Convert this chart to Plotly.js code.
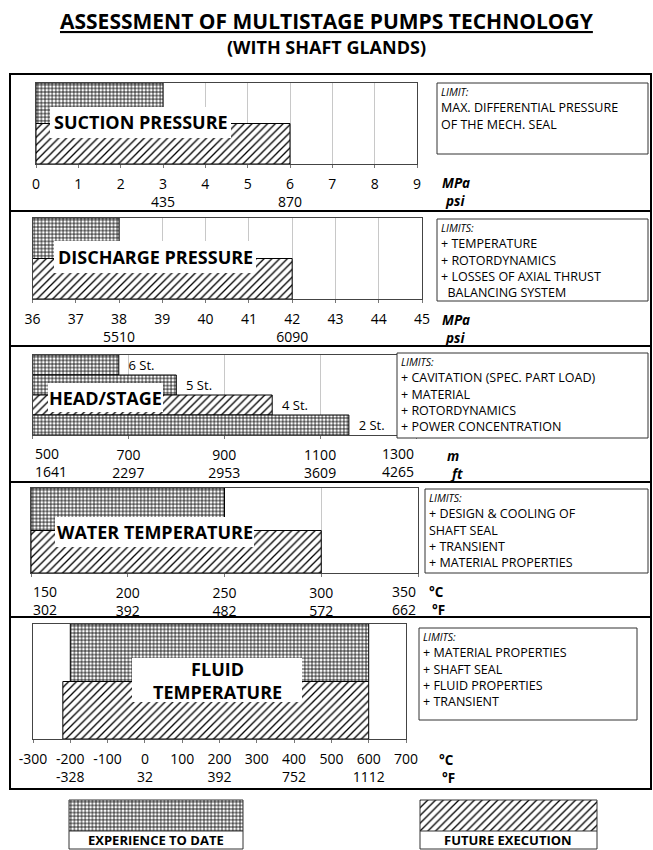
<!DOCTYPE html>
<html><head><meta charset="utf-8">
<script src="https://cdn.plot.ly/plotly-3.0.1.min.js"></script>
<style>html,body{margin:0;padding:0;background:#fff}#chart{width:653px;height:850px}</style>
</head><body><div id="chart"></div>
<script>
// ---------------- DATA ----------------
const barRows = ['experience', 'future'];          // row kind of the two bars in each panel
const legendItems = ['EXPERIENCE TO DATE', 'FUTURE EXECUTION'];

const suctionFrom = [0, 0];
const suctionTo = [3, 6];
const suctionTicks = [0, 1, 2, 3, 4, 5, 6, 7, 8, 9];
const suctionPsiAt = [3, 6];
const suctionPsi = ['435', '870'];

const dischargeFrom = [36, 36];
const dischargeTo = [38, 42];
const dischargeTicks = [36, 37, 38, 39, 40, 41, 42, 43, 44, 45];
const dischargePsiAt = [38, 42];
const dischargePsi = ['5510', '6090'];

const stageRows = ['6 St.', '5 St.', '4 St.', '2 St.'];
const stageHead = [680, 800, 1000, 1160];
const stageKind = ['experience', 'experience', 'future', 'experience'];
const headBase = 500;
const headTicks = [500, 700, 900, 1100, 1300];
const headFtAt = [500, 700, 900, 1100, 1300];
const headFt = ['1641', '2297', '2953', '3609', '4265'];

const waterFrom = [150, 150];
const waterTo = [250, 300];
const waterTicks = [150, 200, 250, 300, 350];
const waterFAt = [150, 200, 250, 300, 350];
const waterF = ['302', '392', '482', '572', '662'];

const fluidFrom = [-200, -220];
const fluidTo = [600, 600];
const fluidTicks = [-300, -200, -100, 0, 100, 200, 300, 400, 500, 600, 700];
const fluidFAt = [-200, 0, 200, 400, 600];
const fluidF = ['-328', '32', '392', '752', '1112'];

const panelNames = ['SUCTION PRESSURE', 'DISCHARGE PRESSURE', 'HEAD/STAGE', 'WATER TEMPERATURE', 'FLUID<br>TEMPERATURE'];
const unitTop = ['MPa', 'MPa', 'm', '°C', '°C'];
const unitBottom = ['psi', 'psi', 'ft', '°F', '°F'];
const unitItalic = [true, true, true, false, false];
const limitHeads = ['LIMIT:', 'LIMITS:', 'LIMITS:', 'LIMITS:', 'LIMITS:'];
const limitLines = [
  ['MAX. DIFFERENTIAL PRESSURE', 'OF THE MECH. SEAL'],
  ['+ TEMPERATURE', '+ ROTORDYNAMICS', '+ LOSSES OF AXIAL THRUST', '\u00a0\u00a0BALANCING SYSTEM'],
  ['+ CAVITATION (SPEC. PART LOAD)', '+ MATERIAL', '+ ROTORDYNAMICS', '+ POWER CONCENTRATION'],
  ['+ DESIGN &amp; COOLING OF', 'SHAFT SEAL', '+ TRANSIENT', '+ MATERIAL PROPERTIES'],
  ['+ MATERIAL PROPERTIES', '+ SHAFT SEAL', '+ FLUID PROPERTIES', '+ TRANSIENT']
];

// ---------------- LAYOUT GEOMETRY (pixels) ----------------
const W = 653, H = 850;
const px = x => x / W;
const py = y => 1 - y / H;
const FONT = 'Open Sans, DejaVu Sans, sans-serif';

const GEO = [
  {box: [36, 417, 83, 164],  label: [50, 231, 107, 138], limit: [437, 648, 83, 154],  unit: [440, 183], edge: false},
  {box: [32.5, 422, 218, 299], label: [54, 256, 241, 273], limit: [437, 648, 219, 301], unit: [440, 320], edge: false},
  {box: [32.5, 416, 355, 435], label: [48, 163, 383, 412], limit: [397, 648, 353, 438], unit: [445, 456], edge: true},
  {box: [31, 418, 488, 573], label: [55, 254, 517, 547], limit: [425, 648, 489, 573], unit: [427, 592], edge: true},
  {box: [33, 406, 624, 739], label: [132, 302, 658, 702], limit: [419, 637, 628, 720], unit: [437, 760], edge: false}
];
const FRAME = [10, 651, 74, 789];
const SEPARATORS = [211, 346, 482, 617];
const LEGEND = [
  {box: [69, 243, 800, 849], split: 831},
  {box: [420, 597, 800, 849], split: 831}
];

const PAT = {
  experience: {shape: '+', size: 3.6, solidity: 0.38},
  future: {shape: '/', size: 5.5, solidity: 0.24}
};
function patternFor(kinds) {
  return {
    shape: kinds.map(k => PAT[k].shape),
    size: kinds.map(k => PAT[k].size),
    solidity: kinds.map(k => PAT[k].solidity),
    fgcolor: '#000', bgcolor: '#fff', fillmode: 'replace'
  };
}

function barTrace(rows, from, to, kinds, n, extra) {
  return Object.assign({
    type: 'bar', orientation: 'h', y: rows,
    x: to.map((v, i) => v - from[i]), base: from,
    xaxis: 'x' + (n === 1 ? '' : n), yaxis: 'y' + (n === 1 ? '' : n),
    marker: {color: '#fff', line: {color: '#000', width: 1}, pattern: patternFor(kinds)},
    hoverinfo: 'skip', showlegend: false
  }, extra || {});
}

function tickLabel(v, secAt, secText) {
  const j = secAt.indexOf(v);
  return String(v) + (j >= 0 ? '<br>' + secText[j] : '');
}

const edgeNotes = [];
function xAxis(g, n, range, ticks, secAt, secText, extra) {
  const tt = ticks.map((v, k) => {
    if (g.edge && (k === 0 || k === ticks.length - 1)) {
      // edge labels are aligned inwards, drawn at the tick value on the same axis
      edgeNotes.push({xref: 'x' + (n === 1 ? '' : n), yref: 'paper', x: v, y: py(g.box[3] + 7),
        xanchor: k === 0 ? 'left' : 'right', yanchor: 'top', align: k === 0 ? 'left' : 'right',
        showarrow: false, text: tickLabel(v, secAt, secText),
        font: {family: FONT, size: 14, color: '#000'}});
      return '';
    }
    return tickLabel(v, secAt, secText);
  });
  return Object.assign({
    domain: [px(g.box[0]), px(g.box[1])], range: range,
    tickmode: 'array', tickvals: ticks, ticktext: tt,
    showline: true, mirror: true, linecolor: '#444', linewidth: 1,
    ticks: 'outside', ticklen: 3, tickcolor: '#777',
    showgrid: true, gridcolor: '#c8c8c8', gridwidth: 1, zeroline: false,
    tickfont: {family: FONT, size: 14, color: '#000'}, ticklabelstandoff: 4,
    fixedrange: true, anchor: 'y' + (n === 1 ? '' : n)
  }, extra || {});
}
function yAxis(g, n) {
  return {
    domain: [py(g.box[3]), py(g.box[2])], type: 'category', autorange: 'reversed',
    showticklabels: false, ticks: '', showgrid: false, zeroline: false,
    showline: true, mirror: true, linecolor: '#444', linewidth: 1,
    anchor: 'x' + (n === 1 ? '' : n), fixedrange: true
  };
}

const traces = [
  barTrace(barRows, suctionFrom, suctionTo, barRows, 1),
  barTrace(barRows, dischargeFrom, dischargeTo, barRows, 2),
  barTrace(stageRows, stageRows.map(() => headBase), stageHead, stageKind, 3, {
    text: stageRows.map(s => '\u00a0\u00a0' + s), textposition: 'outside', cliponaxis: false,
    textfont: {family: FONT, size: 13, color: '#000'}
  }),
  barTrace(barRows, waterFrom, waterTo, barRows, 4),
  barTrace(barRows, fluidFrom, fluidTo, barRows, 5)
];
// legend swatches
legendItems.forEach((name, i) => {
  traces.push({
    type: 'bar', orientation: 'h', y: [name], x: [1], base: [0],
    xaxis: 'x' + (6 + i), yaxis: 'y' + (6 + i),
    marker: {color: '#fff', line: {width: 0}, pattern: patternFor([barRows[i]])},
    hoverinfo: 'skip', showlegend: false
  });
});

const layout = {
  width: W, height: H, margin: {l: 0, r: 0, t: 0, b: 0},
  paper_bgcolor: '#fff', plot_bgcolor: '#fff',
  bargap: 0, showlegend: false, font: {family: FONT, color: '#000'},
  xaxis: xAxis(GEO[0], 1, [0, 9], suctionTicks, suctionPsiAt, suctionPsi),
  yaxis: yAxis(GEO[0], 1),
  xaxis2: xAxis(GEO[1], 2, [36, 45], dischargeTicks, dischargePsiAt, dischargePsi),
  yaxis2: yAxis(GEO[1], 2),
  xaxis3: xAxis(GEO[2], 3, [500, 1300], headTicks, headFtAt, headFt),
  yaxis3: yAxis(GEO[2], 3),
  xaxis4: xAxis(GEO[3], 4, [150, 350], waterTicks, waterFAt, waterF),
  yaxis4: yAxis(GEO[3], 4),
  xaxis5: xAxis(GEO[4], 5, [-300, 700], fluidTicks, fluidFAt, fluidF,
    {showgrid: false, zeroline: true, zerolinecolor: '#222', zerolinewidth: 1, layer: 'above traces'}),
  yaxis5: yAxis(GEO[4], 5),
  shapes: [], annotations: []
};
edgeNotes.forEach(a => layout.annotations.push(a));

LEGEND.forEach((lg, i) => {
  const n = 6 + i;
  layout['xaxis' + n] = {domain: [px(lg.box[0]), px(lg.box[1])], range: [0, 1], visible: false, fixedrange: true, anchor: 'y' + n};
  layout['yaxis' + n] = {domain: [py(lg.split), py(lg.box[2])], type: 'category', visible: false, fixedrange: true, anchor: 'x' + n};
  layout.shapes.push({type: 'rect', xref: 'paper', yref: 'paper', x0: px(lg.box[0]), x1: px(lg.box[1]),
    y0: py(lg.box[3]), y1: py(lg.box[2]), line: {color: '#333', width: 1}, layer: 'above'});
  layout.shapes.push({type: 'line', xref: 'paper', yref: 'paper', x0: px(lg.box[0]), x1: px(lg.box[1]),
    y0: py(lg.split), y1: py(lg.split), line: {color: '#333', width: 1}, layer: 'above'});
  layout.annotations.push({xref: 'paper', yref: 'paper', x: px((lg.box[0] + lg.box[1]) / 2),
    y: py((lg.split + lg.box[3]) / 2), xanchor: 'center', yanchor: 'middle', showarrow: false,
    text: '<b>' + legendItems[i] + '</b>', font: {family: FONT, size: 13, color: '#000'}});
});

// outer frame and separators
layout.shapes.push({type: 'rect', xref: 'paper', yref: 'paper', x0: px(FRAME[0]), x1: px(FRAME[1]),
  y0: py(FRAME[3]), y1: py(FRAME[2]), line: {color: '#000', width: 2}, layer: 'above'});
SEPARATORS.forEach(y => layout.shapes.push({type: 'line', xref: 'paper', yref: 'paper',
  x0: px(FRAME[0]), x1: px(FRAME[1]), y0: py(y), y1: py(y), line: {color: '#000', width: 2}, layer: 'above'}));

GEO.forEach((g, i) => {
  // white label plate
  layout.shapes.push({type: 'rect', xref: 'paper', yref: 'paper', x0: px(g.label[0]), x1: px(g.label[1]),
    y0: py(g.label[3]), y1: py(g.label[2]), fillcolor: '#fff', line: {width: 0}, layer: 'above'});
  layout.annotations.push({xref: 'paper', yref: 'paper', x: px((g.label[0] + g.label[1]) / 2),
    y: py((g.label[2] + g.label[3]) / 2), xanchor: 'center', yanchor: 'middle', showarrow: false,
    text: '<b>' + panelNames[i] + '</b>', font: {family: FONT, size: 18, color: '#000'}});
  // limit box
  layout.shapes.push({type: 'rect', xref: 'paper', yref: 'paper', x0: px(g.limit[0]), x1: px(g.limit[1]),
    y0: py(g.limit[3]), y1: py(g.limit[2]), fillcolor: '#fff', line: {color: '#333', width: 1}, layer: 'above'});
  layout.annotations.push({xref: 'paper', yref: 'paper', x: px(g.limit[0] + 2), y: py(g.limit[2]),
    xanchor: 'left', yanchor: 'top', align: 'left', showarrow: false,
    text: '<span style="font-size:10.5px"><i>' + limitHeads[i] + '</i></span><br>' + limitLines[i].join('<br>'),
    font: {family: FONT, size: 12.5, color: '#000'}});
  // unit labels
  const wrap = s => unitItalic[i] ? '<b><i>' + s + '</i></b>' : '<b>' + s + '</b>';
  layout.annotations.push({xref: 'paper', yref: 'paper', x: px(g.unit[0]), y: py(g.unit[1]),
    xanchor: 'left', yanchor: 'middle', showarrow: false, text: wrap(unitTop[i]),
    font: {family: FONT, size: 13.5, color: '#000'}});
  layout.annotations.push({xref: 'paper', yref: 'paper', x: px(g.unit[0] + 3), y: py(g.unit[1] + 18),
    xanchor: 'left', yanchor: 'middle', showarrow: false, text: wrap(unitBottom[i]),
    font: {family: FONT, size: 13.5, color: '#000'}});
});

// titles
layout.annotations.push({xref: 'paper', yref: 'paper', x: 0.5, y: py(21), xanchor: 'center', yanchor: 'middle',
  showarrow: false, text: '<b>ASSESSMENT OF MULTISTAGE PUMPS TECHNOLOGY</b>',
  font: {family: FONT, size: 21, color: '#000', lineposition: 'under'}});
layout.annotations.push({xref: 'paper', yref: 'paper', x: 0.5, y: py(47), xanchor: 'center', yanchor: 'middle',
  showarrow: false, text: '<b>(WITH SHAFT GLANDS)</b>', font: {family: FONT, size: 18, color: '#000'}});

Plotly.newPlot('chart', traces, layout, {displayModeBar: false, staticPlot: true});
</script></body></html>
